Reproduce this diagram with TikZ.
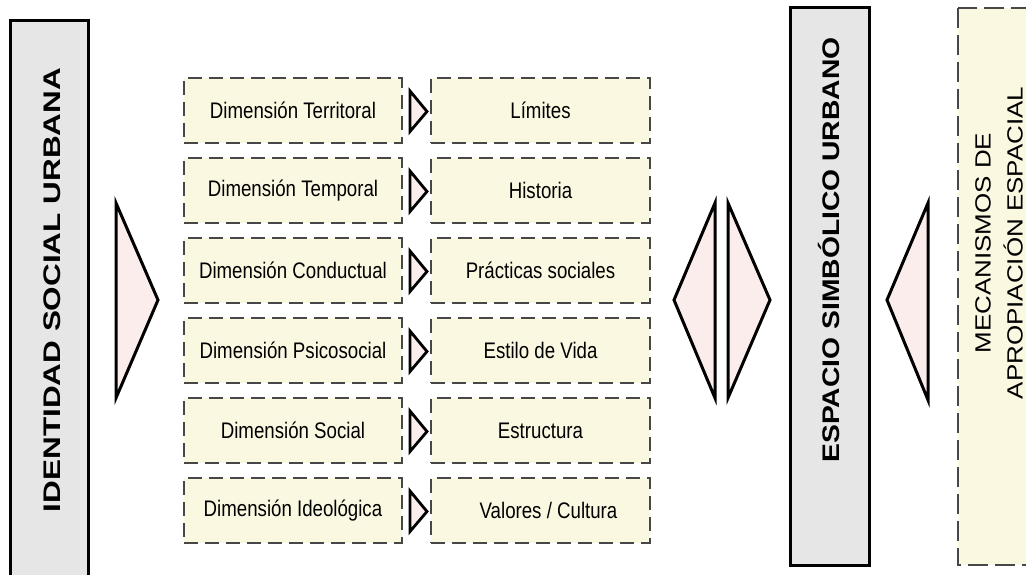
\documentclass[tikz,border=0pt]{standalone}
\usepackage{fontspec}
\setmainfont{Liberation Sans}
\newfontfamily\narrowf[FakeStretch=0.83]{Liberation Sans}
\newfontfamily\widef[FakeStretch=1.18]{Liberation Sans}
\definecolor{grayfill}{HTML}{E6E6E6}
\definecolor{cream}{HTML}{FBF8E2}
\definecolor{pinkfill}{HTML}{FCEDED}
\definecolor{dashgray}{HTML}{474747}
\begin{document}
\begin{tikzpicture}[x=1pt,y=-1pt,
  graybox/.style={draw=black, line width=3pt, fill=grayfill},
  dashbox/.style={draw=dashgray, line width=2.1pt, dash pattern=on 14pt off 7pt, fill=cream},
  dimbox/.style={dashbox, minimum width=218pt, minimum height=65pt, inner sep=0pt,
                 font=\narrowf\fontsize{22.5}{26}\selectfont, text=black},
  arrowshape/.style={draw=black, line width=3pt, fill=pinkfill, line join=miter},
  smallarrow/.style={arrowshape, line width=2.8pt},
  vlabel/.style={rotate=90, inner sep=0pt, text=black},
]
\useasboundingbox (0,0) rectangle (1026,575);
\clip (0,0) rectangle (1026,575);

% left gray box
\draw[graybox] (10,21) rectangle (88,600);
\node[vlabel] (isu) at (52,290) {\resizebox{444pt}{\height}{\bfseries\fontsize{24}{24}\selectfont IDENTIDAD SOCIAL URBANA}};

% big right-pointing triangle
\draw[arrowshape] (116,203) -- (158,300) -- (116,398) -- cycle;

% rows
\node[dimbox] (d1) at (293,110.5) {Dimensión Territoral};
\node[dimbox] (d2) at (293,190.5) {Dimensión Temporal};
\node[dimbox] (d3) at (293,270.5) {Dimensión Conductual};
\node[dimbox] (d4) at (293,350.5) {Dimensión Psicosocial};
\node[dimbox] (d5) at (293,430.5) {Dimensión Social};
\node[dimbox] (d6) at (293,510.5) {Dimensión Ideológica};

\node[dimbox, minimum width=219pt] (r1) at (540.5,110.5) {Límites};
\node[dimbox, minimum width=219pt] (r2) at (540.5,190.5) {Historia};
\node[dimbox, minimum width=219pt] (r3) at (540.5,270.5) {Prácticas sociales};
\node[dimbox, minimum width=219pt] (r4) at (540.5,350.5) {Estilo de Vida};
\node[dimbox, minimum width=219pt] (r5) at (540.5,430.5) {Estructura};
\node[dimbox, minimum width=219pt] (r6) at (540.5,510.5) {\hspace*{16pt}Valores / Cultura};

\foreach \c in {110.5,190.5,270.5,350.5,430.5,510.5}{
  \draw[smallarrow] (410,\c-19.5) -- (427,\c+1) -- (410,\c+21) -- cycle;
}

% double arrow
\draw[arrowshape] (715,203) -- (674,300) -- (715,398) -- cycle;
\draw[arrowshape] (728,203) -- (770,300) -- (728,398) -- cycle;

% middle gray box
\draw[graybox] (790,8) rectangle (869,565);
\node[vlabel] (esu) at (829,250) {\resizebox{425pt}{\height}{\bfseries\fontsize{24}{24}\selectfont ESPACIO SIMBÓLICO URBANO}};

% left-pointing triangle
\draw[arrowshape] (928,203) -- (887,300) -- (928,400) -- cycle;

% right dashed box
\draw[dashbox, dash pattern=on 20pt off 7pt] (958,8) rectangle (1045,565);
\node[vlabel, align=center, font=\widef\fontsize{22}{32}\selectfont] (mae) at (999,243)
  {MECANISMOS DE\\APROPIACIÓN ESPACIAL};
\end{tikzpicture}
\end{document}
